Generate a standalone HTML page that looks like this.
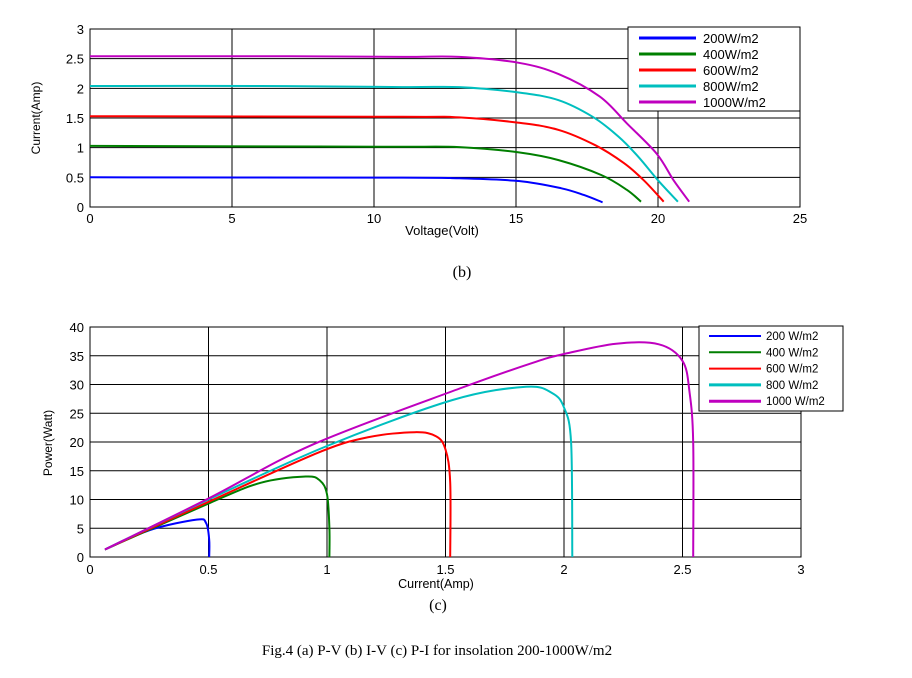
<!DOCTYPE html>
<html><head><meta charset="utf-8"><style>
body{margin:0;background:#fff;width:912px;height:678px;overflow:hidden}
svg{display:block}
</style></head><body>
<svg id="s" width="912" height="678" xmlns="http://www.w3.org/2000/svg" font-family="Liberation Sans, sans-serif"></svg>
<script>
const s=document.getElementById('s');let h='';
const cols=['#0000ff','#007f00','#ff0000','#00bfbf','#bf00bf'];
function cr(P){let d='M'+P[0][0].toFixed(1)+','+P[0][1].toFixed(1);
 for(let i=0;i<P.length-1;i++){const p0=P[i-1]||P[i],p1=P[i],p2=P[i+1],p3=P[i+2]||p2;
  const c1=[p1[0]+(p2[0]-p0[0])/6,p1[1]+(p2[1]-p0[1])/6],c2=[p2[0]-(p3[0]-p1[0])/6,p2[1]-(p3[1]-p1[1])/6];
  d+=` C${c1[0].toFixed(1)},${c1[1].toFixed(1)} ${c2[0].toFixed(1)},${c2[1].toFixed(1)} ${p2[0].toFixed(1)},${p2[1].toFixed(1)}`;}
 return d;}
// Top chart
let X0=90,X1=800,Y0=207,Y1=29;
const tx=v=>X0+v*(X1-X0)/25, ty=i=>Y0-i*(Y0-Y1)/3;
h+=`<rect x="${X0}" y="${Y1}" width="${X1-X0}" height="${Y0-Y1}" fill="#fff" stroke="#000"/>`;
for(let v=0;v<=25;v+=5){h+=`<line x1="${tx(v)}" y1="${Y1}" x2="${tx(v)}" y2="${Y0}" stroke="#000" stroke-width="1"/><text x="${tx(v)}" y="${Y0+16}" font-size="13" text-anchor="middle">${v}</text>`;}
for(let k=0;k<=6;k++){let i=k*0.5;h+=`<line x1="${X0}" y1="${ty(i)}" x2="${X1}" y2="${ty(i)}" stroke="#000"/><text x="${X0-6}" y="${ty(i)+5}" font-size="13" text-anchor="end">${i}</text>`;}
const iv=[
[[0,0.5],[11,0.495],[13,0.483],[15.1,0.438],[16.6,0.315],[17.4,0.2],[18.05,0.08]],
[[0,1.03],[8,1.02],[11,1.015],[13,1.01],[15.1,0.92],[16.5,0.79],[18.0,0.54],[18.9,0.29],[19.4,0.09]],
[[0,1.53],[11,1.52],[13,1.51],[15.1,1.42],[16.5,1.30],[17.8,1.04],[18.8,0.74],[19.5,0.45],[20.2,0.09]],
[[0,2.04],[6,2.04],[11,2.02],[13,2.02],[15.1,1.93],[16.5,1.80],[17.7,1.52],[18.6,1.19],[19.3,0.85],[20.0,0.45],[20.7,0.09]],
[[0,2.54],[7,2.54],[11,2.53],[13,2.53],[15.1,2.43],[16.5,2.24],[17.95,1.86],[18.9,1.41],[19.95,0.90],[20.55,0.45],[21.1,0.09]]];
for(let c=0;c<5;c++){h+=`<path d="${cr(iv[c].map(p=>[tx(p[0]),ty(p[1])]))}" fill="none" stroke="${cols[c]}" stroke-width="2"/>`;}
h+=`<rect x="628" y="27" width="172" height="84" fill="#fff" stroke="#000"/>`;
const lt=['200W/m2','400W/m2','600W/m2','800W/m2','1000W/m2'];
for(let c=0;c<5;c++){let y=38+c*16;h+=`<line x1="639" y1="${y}" x2="696" y2="${y}" stroke="${cols[c]}" stroke-width="3"/><text x="703" y="${y+5}" font-size="13">${lt[c]}</text>`;}
h+=`<text x="442" y="235" font-size="13" text-anchor="middle">Voltage(Volt)</text>`;
h+=`<text transform="translate(40,118) rotate(-90)" font-size="12" text-anchor="middle">Current(Amp)</text>`;
h+=`<text x="462" y="277" font-size="16" font-family="Liberation Serif, serif" text-anchor="middle">(b)</text>`;
// Bottom chart
X0=90;X1=801;Y0=557;Y1=327;
const bx=i=>X0+i*(X1-X0)/3, by=p=>Y0-p*(Y0-Y1)/40;
h+=`<rect x="${X0}" y="${Y1}" width="${X1-X0}" height="${Y0-Y1}" fill="#fff" stroke="#000"/>`;
for(let k=0;k<=6;k++){let i=k*0.5;h+=`<line x1="${bx(i)}" y1="${Y1}" x2="${bx(i)}" y2="${Y0}" stroke="#000"/><text x="${bx(i)}" y="${Y0+17}" font-size="13" text-anchor="middle">${i}</text>`;}
for(let p=0;p<=40;p+=5){h+=`<line x1="${X0}" y1="${by(p)}" x2="${X1}" y2="${by(p)}" stroke="#000"/><text x="${X0-6}" y="${by(p)+5}" font-size="13" text-anchor="end">${p}</text>`;}
const st=[0.063,1.3];
const pi=[
[st,[0.253,4.7],[0.45,6.5],[0.49,5.9],[0.503,3],[0.503,0]],
[st,[0.506,9.4],[0.72,12.9],[0.91,14.0],[0.97,13.3],[1.0,10.9],[1.01,5],[1.01,0]],
[st,[0.506,9.7],[0.96,18.1],[1.17,20.8],[1.37,21.7],[1.46,21.0],[1.50,18.7],[1.52,13.0],[1.52,0]],
[st,[0.506,10.1],[1.0,19.3],[1.53,27.3],[1.84,29.6],[1.95,28.5],[2.0,26.0],[2.03,19.9],[2.035,0]],
[st,[0.506,10.3],[0.942,19.6],[1.56,29.3],[1.87,33.8],[2.0,35.3],[2.22,37.1],[2.40,37.0],[2.50,34.1],[2.53,28.6],[2.545,19.9],[2.545,0]]];
for(let c=0;c<5;c++){h+=`<path d="${cr(pi[c].map(p=>[bx(p[0]),by(p[1])]))}" fill="none" stroke="${cols[c]}" stroke-width="2"/>`;}
h+=`<rect x="699" y="326" width="144" height="85" fill="#fff" stroke="#000"/>`;
const lb=['200 W/m2','400 W/m2','600 W/m2','800 W/m2','1000 W/m2'];
for(let c=0;c<5;c++){let y=336+c*16.3;h+=`<line x1="709" y1="${y}" x2="761" y2="${y}" stroke="${cols[c]}" stroke-width="${c>2?3:2}"/><text x="766" y="${y+4}" font-size="11.5">${lb[c]}</text>`;}
h+=`<text x="436" y="588" font-size="12.5" text-anchor="middle">Current(Amp)</text>`;
h+=`<text transform="translate(52,443) rotate(-90)" font-size="12" text-anchor="middle">Power(Watt)</text>`;
h+=`<text x="438" y="610" font-size="16" font-family="Liberation Serif, serif" text-anchor="middle">(c)</text>`;
h+=`<text x="437" y="655" font-size="15" font-family="Liberation Serif, serif" text-anchor="middle">Fig.4 (a) P-V (b) I-V (c) P-I for insolation 200-1000W/m2</text>`;
s.innerHTML=h;
</script>
</body></html>
